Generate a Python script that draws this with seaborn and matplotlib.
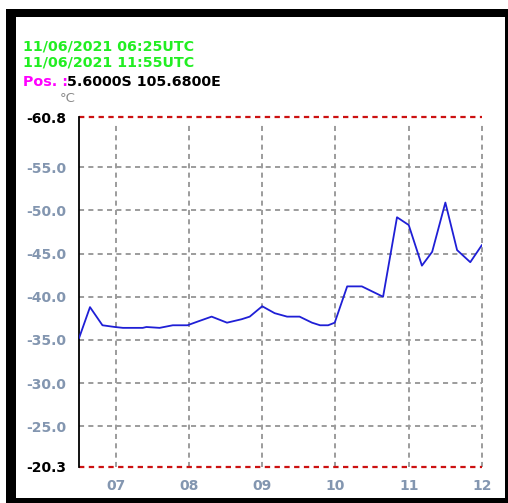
import matplotlib
matplotlib.use("Agg")
import matplotlib.pyplot as plt
from matplotlib.patches import Rectangle
import seaborn as sns
import pandas as pd

# Temperature profile (decimal hours UTC, degrees C)
hours = [6.50, 6.65, 6.82, 6.99, 7.10, 7.37, 7.42, 7.60, 7.78, 7.98,
         8.11, 8.31, 8.52, 8.72, 8.83, 9.00, 9.17, 9.34, 9.51, 9.68,
         9.79, 9.90, 9.99, 10.16, 10.36, 10.65, 10.84, 11.00, 11.18, 11.32,
         11.50, 11.66, 11.84, 12.00]
temps = [-35.2, -38.8, -36.7, -36.5, -36.4, -36.4, -36.5, -36.4, -36.7, -36.7,
         -37.1, -37.7, -37.0, -37.4, -37.7, -38.9, -38.1, -37.7, -37.7, -37.0,
         -36.7, -36.7, -37.0, -41.2, -41.2, -40.0, -49.2, -48.3, -43.6, -45.2,
         -50.9, -45.4, -44.0, -46.0]

x_ticks = [7, 8, 9, 10, 11, 12]
x_labels = ["07", "08", "09", "10", "11", "12"]
y_ticks = [-60.8, -55.0, -50.0, -45.0, -40.0, -35.0, -30.0, -25.0, -20.3]
y_labels = ["-60.8", "-55.0", "-50.0", "-45.0", "-40.0", "-35.0", "-30.0", "-25.0", "-20.3"]
y_top, y_bottom = -60.8, -20.3
x_start, x_end = 6.5, 12.0

header_start = "11/06/2021 06:25UTC"
header_end = "11/06/2021 11:55UTC"
pos_label = "Pos. :"
pos_value = "5.6000S 105.6800E"

df = pd.DataFrame({"hour": hours, "temp": temps})

sns.set_theme(style="white")
plt.rcParams["font.family"] = ["DejaVu Sans"]

W, H = 508, 503
fig = plt.figure(figsize=(W / 100, H / 100), dpi=100)
fig.patch.set_facecolor("white")

# frame around the panel
fig.patches.append(Rectangle((6 / W, 0), 1 - 6 / W, 1 - 9 / H, transform=fig.transFigure,
                             facecolor="black", edgecolor="none", zorder=-3))
fig.patches.append(Rectangle((16 / W, 5 / H), (505 - 16) / W, (498 - 17) / H,
                             transform=fig.transFigure, facecolor="white",
                             edgecolor="none", zorder=-2))

ax = fig.add_axes([79 / W, (H - 467) / H, (482 - 79) / W, (467 - 117) / H])
ax.set_facecolor("none")

sns.lineplot(data=df, x="hour", y="temp", ax=ax, color="#1f1fd6", linewidth=1.3, zorder=5)

ax.set_xlim(x_start, x_end)
ax.set_ylim(y_bottom, y_top)

grid_kw = dict(color="#9c9c9c", linewidth=1.4, linestyle=(0, (2.6, 2.2)), zorder=1,
               clip_on=False)
for yv in y_ticks[1:-1]:
    ax.axhline(yv, **grid_kw)
for xv in x_ticks:
    ax.axvline(xv, ymin=0, ymax=0.98, **grid_kw)

red_kw = dict(color="#cc1111", linewidth=1.6, linestyle=(0, (2.4, 2.0)), zorder=2,
              clip_on=False)
ax.axhline(y_top, **red_kw)
ax.axhline(y_bottom, **red_kw)

for side in ["top", "right", "bottom"]:
    ax.spines[side].set_visible(False)
ax.spines["left"].set_color("black")
ax.spines["left"].set_linewidth(1.3)

tick_color = "#8396b0"
ax.set_xticks(x_ticks)
ax.set_xticklabels(x_labels)
ax.set_yticks(y_ticks)
ax.set_yticklabels(y_labels)
ax.tick_params(axis="both", length=0, labelsize=10)
ax.tick_params(axis="y", pad=9)
ax.tick_params(axis="x", pad=9)
for lab in ax.get_xticklabels() + ax.get_yticklabels():
    lab.set_fontweight("bold")
    lab.set_color(tick_color)
for lab in ax.get_yticklabels():
    if lab.get_text() in (y_labels[0], y_labels[-1]):
        lab.set_color("black")
ax.set_xlabel("")
ax.set_ylabel("")

fig.text(60 / W, 1 - 102 / H, "°C", color="#8a8a8a", fontsize=9.5, va="baseline")

hdr = dict(fontsize=10.3, fontweight="bold", va="baseline")
fig.text(23 / W, 1 - 50 / H, header_start, color="#22ee22", **hdr)
fig.text(23 / W, 1 - 67 / H, header_end, color="#22ee22", **hdr)
fig.text(23 / W, 1 - 86 / H, pos_label, color="#ff00ff", **hdr)
fig.text(67 / W, 1 - 86 / H, pos_value, color="black", **hdr)

fig.savefig("out.png", dpi=100)
